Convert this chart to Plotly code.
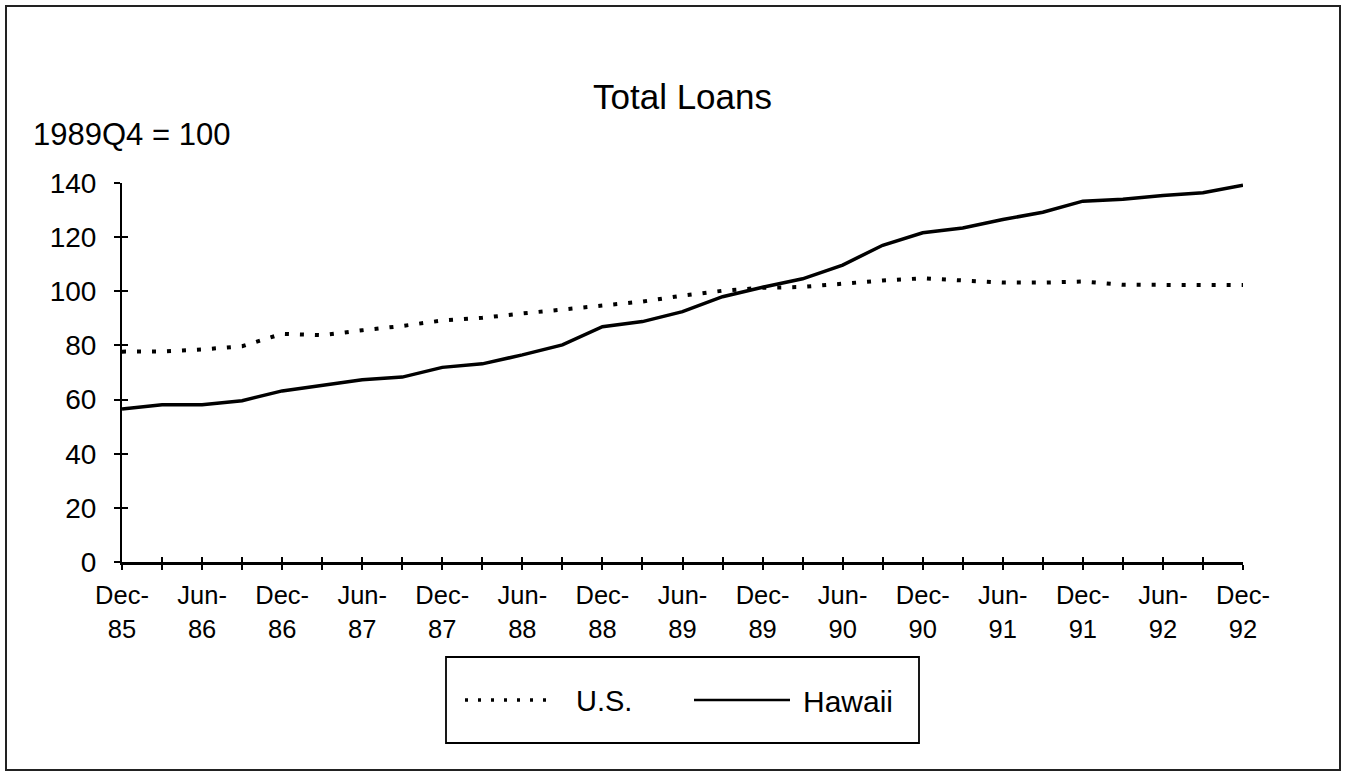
import plotly.graph_objects as go

# Quarterly observations, Dec-85 through Dec-92 (index, 1989Q4 = 100)
quarters = [
    "Dec-85", "Mar-86", "Jun-86", "Sep-86", "Dec-86", "Mar-87", "Jun-87", "Sep-87",
    "Dec-87", "Mar-88", "Jun-88", "Sep-88", "Dec-88", "Mar-89", "Jun-89", "Sep-89",
    "Dec-89", "Mar-90", "Jun-90", "Sep-90", "Dec-90", "Mar-91", "Jun-91", "Sep-91",
    "Dec-91", "Mar-92", "Jun-92", "Sep-92", "Dec-92",
]
us_loans = [
    77.7, 77.8, 78.5, 79.7, 84.3, 83.8, 85.6, 87.2,
    89.2, 90.2, 91.8, 93.2, 94.9, 96.2, 98.4, 100.2,
    101.3, 101.6, 102.8, 104.0, 104.8, 104.0, 103.2, 103.2,
    103.6, 102.4, 102.4, 102.4, 102.3,
]
hawaii_loans = [
    56.5, 58.1, 58.1, 59.6, 63.2, 65.4, 67.3, 68.3,
    71.9, 73.2, 76.5, 80.2, 86.9, 88.8, 92.5, 98.0,
    101.5, 104.6, 109.7, 117.0, 121.6, 123.4, 126.5, 129.2,
    133.3, 134.0, 135.4, 136.4, 139.2,
]
y_ticks = [0, 20, 40, 60, 80, 100, 120, 140]

FONT = "Liberation Sans, Arial, Helvetica, sans-serif"
W, H = 1348, 776
L, R, T, B = 122, 105, 183, 214
PW, PH = W - L - R, H - T - B


def fx(px):
    """Pixel column -> paper x."""
    return (px - L) / PW


def fy(py):
    """Pixel row -> paper y."""
    return (H - B - py) / PH


x_idx = list(range(len(quarters)))
x_range = [0, len(quarters) - 1]
y_range = [0, 140]
# label every second quarter as a two-line "Mon-<br>YY"
tick_text = [q.replace("-", "-<br>") if i % 2 == 0 else "" for i, q in enumerate(quarters)]

fig = go.Figure()
fig.add_trace(go.Scatter(
    x=x_idx, y=us_loans, mode="lines", name="U.S.",
    line=dict(color="black", width=4, dash="4px,11px"),
    showlegend=False,
))
# Hawaii sits on the overlaid axis pair (identical ranges), which draws the inner ticks
fig.add_trace(go.Scatter(
    x=x_idx, y=hawaii_loans, mode="lines", name="Hawaii",
    line=dict(color="black", width=3.5),
    xaxis="x2", yaxis="y2",
    showlegend=False,
))

axis_common = dict(showgrid=False, zeroline=False, color="black")

fig.update_layout(
    width=W, height=H,
    margin=dict(l=L, r=R, t=T, b=B, pad=0),
    paper_bgcolor="white", plot_bgcolor="white",
    font=dict(family=FONT, color="black"),
    xaxis=dict(
        **axis_common,
        range=x_range,
        tickmode="array", tickvals=x_idx, ticktext=tick_text,
        ticks="outside", ticklen=5, tickwidth=1.5, tickcolor="black",
        showline=True, linecolor="black", linewidth=2.5,
        tickfont=dict(size=25.5, family=FONT),
        ticklabelstandoff=4,
    ),
    yaxis=dict(
        **axis_common,
        range=y_range,
        tickmode="array", tickvals=y_ticks,
        ticks="outside", ticklen=6, tickwidth=2, tickcolor="black",
        showline=True, linecolor="black", linewidth=2,
        tickfont=dict(size=28, family=FONT),
        ticklabelstandoff=12,
    ),
    xaxis2=dict(
        **axis_common, overlaying="x", anchor="y2", side="bottom",
        range=x_range,
        tickmode="array", tickvals=x_idx, showticklabels=False,
        ticks="inside", ticklen=5, tickwidth=1.5, tickcolor="black",
        showline=False,
    ),
    yaxis2=dict(
        **axis_common, overlaying="y", anchor="x2", side="left",
        range=y_range,
        tickmode="array", tickvals=y_ticks, showticklabels=False,
        ticks="inside", ticklen=6, tickwidth=2, tickcolor="black",
        showline=False,
    ),
)

annotations = [
    dict(text="Total Loans", x=0.5, y=fy(97), xanchor="center", yanchor="middle",
         font=dict(size=35, family=FONT)),
    dict(text="1989Q4 = 100", x=fx(31), y=fy(134), xanchor="left", yanchor="middle",
         font=dict(size=31, family=FONT)),
    dict(text="U.S.", x=fx(574), y=fy(701), xanchor="left", yanchor="middle",
         font=dict(size=29, family=FONT)),
    dict(text="Hawaii", x=fx(801), y=fy(701), xanchor="left", yanchor="middle",
         font=dict(size=30, family=FONT)),
]
for a in annotations:
    a.update(xref="paper", yref="paper", showarrow=False)
fig.update_layout(annotations=annotations)

shapes = [
    # outer frame
    dict(type="rect", x0=fx(6), x1=fx(1340), y0=fy(770), y1=fy(6),
         line=dict(color="#222", width=2)),
    # legend box and its line samples
    dict(type="rect", x0=fx(446), x1=fx(919), y0=fy(743), y1=fy(657),
         line=dict(color="black", width=1.8)),
    dict(type="line", x0=fx(465), x1=fx(556), y0=fy(700), y1=fy(700),
         line=dict(color="black", width=3.5, dash="3px,10px")),
    dict(type="line", x0=fx(694), x1=fx(790), y0=fy(700), y1=fy(700),
         line=dict(color="black", width=2.5)),
]
for s in shapes:
    s.update(xref="paper", yref="paper")
fig.update_layout(shapes=shapes)

fig.write_html("out.html")
